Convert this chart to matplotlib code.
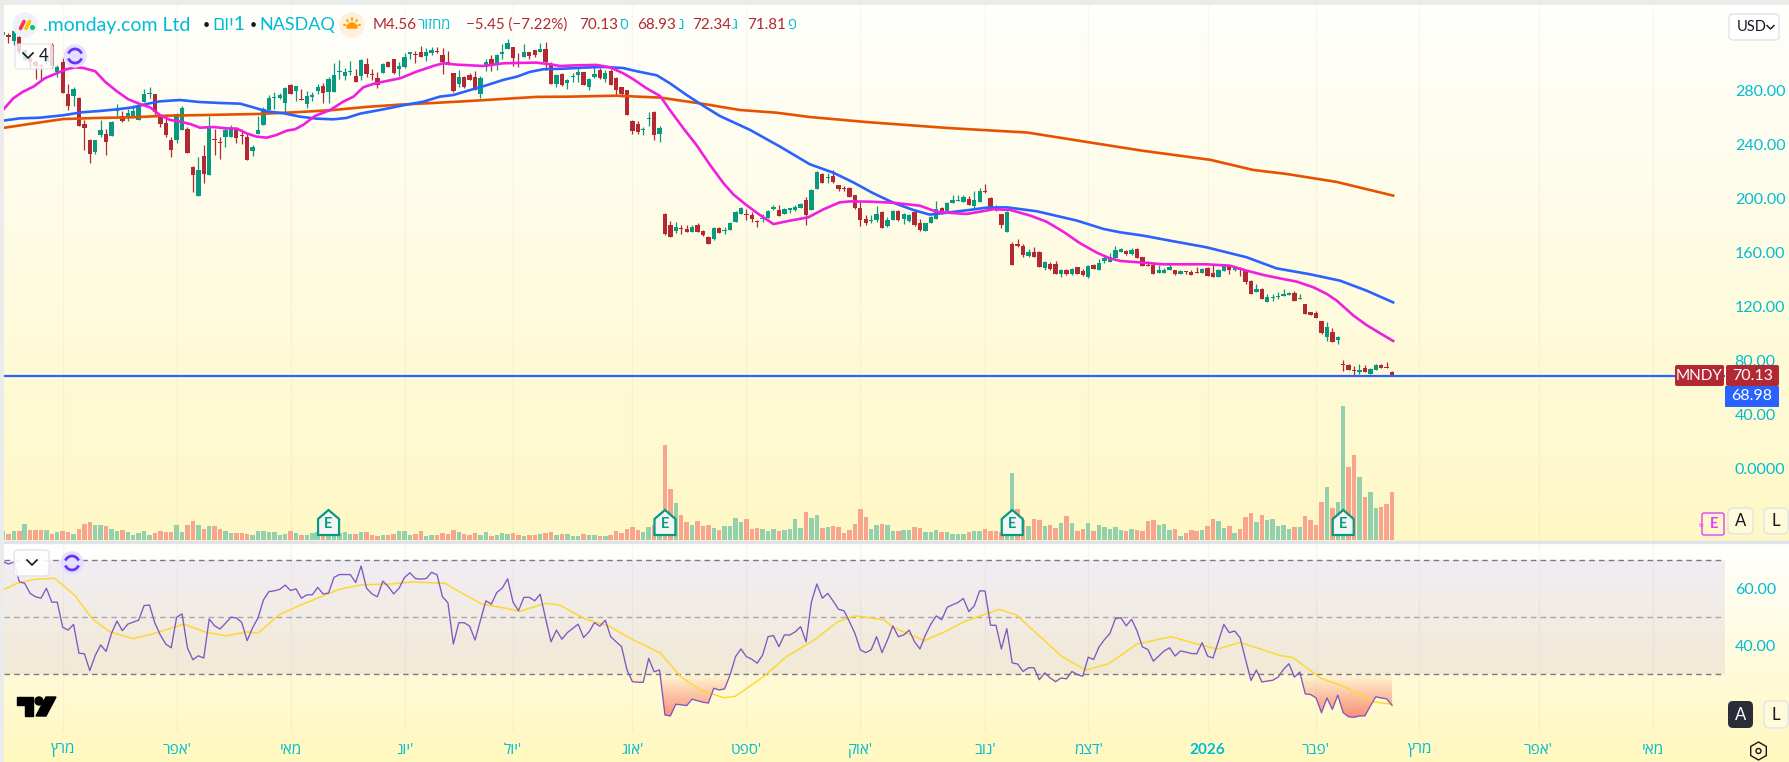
#!/usr/bin/env python3
import numpy as np
import matplotlib
matplotlib.use("Agg")
import matplotlib.pyplot as plt
from matplotlib.patches import Arc, Circle, FancyBboxPatch, Polygon, Rectangle, RegularPolygon, Wedge
from matplotlib.path import Path

W, H = 1790, 762
plt.rcParams["font.family"] = ["Lato", "Open Sans", "Liberation Sans", "DejaVu Sans"]

# daily candles, Feb 2025 - Feb 2026
OPEN = [
    321.3, 321.3, 317, 319.5, 303, 304, 301.5, 299, 301.5, 314,
    294.1, 301.3, 277.6, 276, 274.6, 255.3, 243.5, 234.6, 247.2, 248,
    246.5, 264.7, 261.3, 260.3, 260.3, 258.3, 271.6, 277.6, 277.6, 261.3,
    255.8, 243.5, 243.5, 250.9, 251.4, 223.7, 202.2, 231.6, 217.6, 244,
    242, 245.5, 245.5, 250.9, 247.4, 245.7, 235.3, 247.7, 254.6, 265.7,
    274.6, 274.6, 271.2, 284, 279.6, 273.9, 270.2, 275.6, 279.6, 283.5,
    279, 279, 293.9, 290.9, 293.9, 290.9, 290.9, 299.8, 292.4, 289.2,
    292.9, 301, 303.5, 296.3, 297.8, 307.2, 307.2, 308.7, 305.7, 308.2,
    309.7, 306.5, 301.3, 292.9, 285, 289.9, 291.7, 290.4, 277.6, 297.3,
    303.5, 300.8, 307.2, 310.9, 312.2, 301, 305.2, 308.7, 310.2, 308.7,
    310.9, 299.8, 285.2, 292.4, 286, 289.9, 291.9, 293.9, 283, 290.4,
    295.4, 288.7, 294.6, 289.4, 282.5, 280.3, 257.6, 255.3, 250.9, 258.8,
    264.2, 248.2, 188.7, 180.5, 175.8, 178.3, 177.5, 175.3, 180.5, 176,
    171.6, 170.1, 178.3, 175.8, 176.8, 182.7, 188.7, 188.4, 187.9, 183,
    185, 185.7, 192.6, 191.6, 188.9, 191.9, 191.6, 193.1, 199, 191.6,
    207.4, 218.3, 215.3, 216.8, 210.1, 208.2, 207.7, 202.7, 193.1, 185,
    183.5, 184.2, 190.1, 179.8, 184.2, 190.9, 185, 183.5, 190.1, 182,
    176.1, 182.3, 185.2, 193.4, 190.9, 196.8, 198.3, 197.6, 199.8, 194.6,
    197.6, 205.5, 200.6, 193.6, 188.7, 175.4, 166.5, 166.5, 165, 157.6,
    160.5, 160.5, 148.7, 151.6, 151.6, 144.2, 147.2, 144.2, 149.4, 146.5,
    142, 150.9, 147.2, 153.9, 153.1, 156.1, 160.8, 161.3, 159, 162.8,
    156.8, 151.2, 150.9, 145, 145, 147.2, 147.2, 144.2, 146.2, 145.5,
    145.7, 145, 148.7, 145, 142, 146.5, 150.2, 147.5, 148.2, 147,
    139, 130.9, 133.1, 123.5, 126.4, 127.2, 127.9, 128.7, 130.2, 126,
    122, 116.1, 115.3, 109.4, 97.6, 101.3, 95.3, 77.5, 76.8, 72.9,
    71.6, 74.6, 70.1, 73.1, 76.8, 75.3, 71.81,
]
CLOSE = [
    323.3, 320, 324.5, 309, 310, 301.5, 298.5, 298.5, 306.5, 298,
    297.8, 278.6, 268.7, 281, 253.9, 252.6, 233, 243.5, 250.9, 242,
    256.8, 266.5, 257.8, 263.3, 265, 267.7, 277.6, 278.3, 264.2, 255.3,
    247.2, 236, 262.8, 267.2, 233.6, 217.6, 221.3, 218.3, 252.6, 243.2,
    241.3, 250.9, 251.4, 245, 246.5, 228.7, 238.6, 250.9, 266.2, 274.6,
    275.4, 276.8, 282, 277.6, 283.5, 273.4, 276, 276.8, 283, 278.3,
    288.4, 291.7, 294.4, 293.9, 294.4, 286.7, 302.8, 292.4, 291.9, 284.5,
    299.8, 297.8, 292.9, 298.3, 304.7, 308.5, 306.5, 305, 308.5, 310.2,
    309, 301.5, 299, 280, 289.9, 283, 288, 280.5, 289.2, 301.5,
    298.3, 306.5, 308.7, 315.1, 304.5, 300.3, 308.7, 305.7, 306.7, 310.7,
    301.5, 285.2, 291.7, 284.2, 288, 290.4, 293.9, 284.2, 288.4, 292.4,
    289.4, 293.4, 284.5, 280.8, 277.8, 262.3, 250.2, 249.7, 251.4, 259.5,
    247.2, 252.4, 173.8, 171.6, 179, 177.3, 175.3, 179, 175.3, 173.1,
    166.4, 178.3, 174.6, 176.3, 182, 190.1, 193.1, 187.7, 184.7, 182.5,
    185.7, 190.9, 193.6, 187.2, 192.1, 192.9, 193.6, 196.1, 187.9, 206.4,
    219.8, 211.6, 216.1, 212.4, 207.4, 207.4, 201.5, 193.1, 184.2, 182,
    184.2, 188.7, 178.3, 184.2, 190.9, 184.2, 188.7, 187.9, 180.5, 176.8,
    182, 186.7, 192.2, 189.7, 197.1, 198.8, 198.8, 201.3, 195.4, 199.1,
    205.5, 205, 192.6, 192.6, 180.5, 190.2, 150.9, 165, 158.3, 160.5,
    156.8, 149.4, 153.1, 147.9, 144.2, 147.2, 144.2, 147.9, 144.2, 143.5,
    150.2, 147.9, 152.4, 156.1, 156.8, 162, 162.8, 159, 162, 156.1,
    150.2, 150.4, 144.2, 147.2, 147.2, 149.4, 144.2, 146.5, 145.5, 143.5,
    145.2, 147.9, 142.8, 142, 147.2, 150.2, 147.2, 148.7, 147.2, 138.3,
    129.4, 133.1, 125.7, 127.2, 127.2, 127.9, 129.4, 130.2, 124.2, 126.4,
    114.6, 113.9, 111.6, 100.5, 105, 93.9, 97.6, 76.8, 73.1, 72.1,
    73.1, 71.6, 73.9, 76.8, 74.6, 74.8, 69.0,
]
HIGH = [
    324, 322.5, 326, 321, 311, 306.5, 302.7, 300, 307, 315,
    299, 304, 285, 282.5, 275, 258, 244, 243.5, 258, 251.4,
    257.8, 270.2, 265, 266.2, 269.2, 268.7, 281, 282.5, 277.6, 262,
    263, 245.5, 263.3, 268.7, 253.4, 224.2, 231, 239.8, 261.3, 251.4,
    245.5, 252.1, 254.6, 252.9, 251.9, 248, 239.8, 261.3, 267.7, 276.8,
    279, 278.6, 282.5, 285, 283.5, 281, 279.6, 279.3, 285, 285.5,
    290.4, 300.3, 302.8, 296.6, 301.8, 295.9, 303.5, 304, 295.9, 294,
    300.8, 301.8, 303.5, 301.5, 308.2, 309, 309.7, 313.1, 311.4, 312.6,
    312.6, 311.4, 309.7, 292.9, 295.4, 291, 293.4, 294.9, 290.9, 303.3,
    306.5, 307.2, 314.6, 318, 312.2, 308.2, 314.6, 308.7, 310.2, 315.1,
    316.1, 301.5, 292.4, 292.9, 288.4, 293.4, 297.8, 293.9, 289.2, 297.3,
    296.6, 295.4, 295.9, 290.4, 282.5, 280.3, 258.3, 257.6, 253.4, 264.5,
    265, 253.9, 189.1, 183.7, 182.7, 180.3, 180.3, 180.3, 182.2, 176.8,
    172.4, 179.3, 179.3, 178.8, 182.7, 190.6, 193.6, 192.1, 190.1, 184.2,
    188.7, 191.6, 195.1, 195.1, 192.9, 193, 195.1, 196.6, 201.5, 206.9,
    220.3, 218.8, 219.3, 221.3, 210.1, 209.7, 208.4, 202.7, 197.3, 187.9,
    187.9, 194.6, 190.6, 186.2, 191.6, 191.6, 189.7, 188.9, 190.1, 184.7,
    182.3, 187.4, 198.3, 194.1, 197.6, 202.8, 202.8, 202.8, 202, 205.5,
    207.7, 210.9, 201.5, 195.4, 188.7, 191.2, 167.7, 170.2, 166.5, 163,
    164, 161.3, 153.9, 153.1, 153.9, 147.7, 147.7, 148.4, 149.4, 147.9,
    150.9, 151.6, 155.3, 158.3, 159.5, 165, 163.8, 162, 163.3, 163.5,
    156.8, 153.9, 152.1, 150.9, 148.9, 151.6, 147.2, 147.2, 146.5, 147.2,
    149.4, 148.7, 149.4, 150.9, 147.9, 150.9, 150.9, 149.4, 149.2, 147,
    139.8, 136.8, 133.9, 129.4, 129.4, 130.9, 133.1, 130.9, 131.6, 129.4,
    122, 116.1, 116.8, 109.4, 108.7, 104.2, 98.3, 80.5, 77.5, 76.1,
    77.5, 76.8, 74.3, 77.5, 77.5, 79, 72.34,
]
LOW = [
    321, 315, 314, 307.5, 302, 296.5, 289, 288, 300, 297,
    290.4, 278.6, 265.7, 268.7, 253.9, 236, 226.7, 233, 245.5, 232.4,
    246.5, 260.3, 256.8, 257.8, 260.3, 258.3, 271.6, 274.4, 262, 253.4,
    245.5, 231, 241.5, 250.9, 233.6, 205.2, 202.2, 211.4, 217.6, 232.4,
    229.7, 238, 245.5, 241.5, 240.5, 228.7, 231.6, 247.7, 254.6, 265.7,
    266.5, 273.6, 262.8, 277.6, 272, 273.4, 267.2, 272.4, 277.6, 270.7,
    271.2, 279, 289, 288, 291.7, 286.7, 288, 290, 288, 282.3,
    292.9, 297.8, 292.4, 291, 296.6, 303.3, 300.8, 304.7, 302.3, 306.5,
    307.7, 292.4, 299, 279, 283, 282, 288, 280.5, 274.4, 294.9,
    294.9, 295.4, 303.3, 310.9, 298.3, 297.3, 305.2, 303.8, 304.7, 308.7,
    295.4, 285.2, 283, 283.5, 281.5, 286.7, 286.7, 284.2, 280.5, 289.2,
    288.4, 286.7, 284.5, 276.8, 275.6, 262.3, 247.9, 247.9, 247.2, 253.9,
    243.5, 242.3, 173, 171.6, 174.8, 173.8, 175.3, 175.3, 175.3, 172.6,
    166.4, 169.4, 174.6, 173.8, 176.8, 182.7, 188.7, 184.2, 183, 179.3,
    183, 185.7, 191.4, 187.2, 188.9, 189.6, 191.1, 192.9, 180.5, 191.6,
    207.4, 211.6, 211.9, 211.9, 206, 205.5, 201.5, 192.6, 179.8, 180.8,
    181.7, 183, 178.3, 178.8, 184.2, 183.2, 181.2, 182.8, 179.8, 176.3,
    176.1, 182, 185, 188.7, 190.9, 196.8, 198, 197.6, 195.4, 192.9,
    197.6, 204, 192.6, 191.2, 178.6, 175.4, 150.9, 164, 156.8, 157,
    156.8, 149.4, 147.2, 147.2, 144.2, 142, 143.5, 143.5, 144.2, 142.8,
    141.5, 147.9, 147.2, 152.4, 153.1, 156.1, 160.8, 158, 158.3, 156.1,
    150.2, 150.2, 144.2, 145, 145, 147.2, 143.3, 144.2, 144.2, 143.5,
    145.2, 145, 142.8, 142, 142, 146.5, 144.2, 146.5, 142.8, 136.8,
    129.4, 130.9, 125.7, 123.5, 124.2, 125.7, 127.9, 128.7, 124.2, 125.5,
    114.6, 113.9, 111.6, 99.8, 94.6, 93.9, 92.4, 72.4, 73.1, 68.6,
    70.1, 71.6, 70.1, 72.9, 74.6, 74.8, 68.93,
]

# relative volume, only the bar heights can be read (no scale on the chart)
VOLUME = [
    27, 18, 27, 27, 48, 30, 30, 30, 30, 18, 24, 27, 24, 18, 33, 48, 54, 45, 45, 42,
    33, 27, 30, 24, 15, 21, 27, 15, 21, 27, 24, 24, 45, 24, 45, 57, 45, 33, 42, 42,
    33, 27, 21, 21, 21, 18, 15, 27, 27, 24, 24, 15, 18, 27, 21, 15, 15, 21, 24, 20,
    20, 20, 20, 24, 18, 18, 24, 24, 15, 12, 15, 15, 18, 27, 27, 15, 18, 27, 12, 15,
    15, 21, 18, 30, 24, 18, 15, 21, 15, 24, 12, 15, 21, 18, 21, 15, 12, 15, 15, 18,
    21, 24, 15, 18, 18, 12, 12, 18, 15, 15, 12, 12, 15, 27, 21, 33, 39, 30, 24, 39,
    45, 30, 285, 153, 111, 75, 54, 45, 57, 42, 45, 36, 30, 42, 42, 66, 54, 63, 33, 36,
    33, 27, 33, 27, 30, 33, 63, 36, 84, 66, 75, 36, 39, 42, 39, 21, 30, 48, 93, 69,
    33, 45, 48, 45, 27, 27, 30, 30, 39, 36, 24, 24, 30, 24, 24, 18, 18, 18, 24, 27,
    27, 33, 27, 27, 24, 24, 201, 93, 60, 42, 63, 60, 42, 45, 36, 51, 72, 51, 27, 33,
    51, 27, 45, 39, 33, 39, 30, 27, 33, 30, 27, 57, 60, 45, 48, 30, 33, 12, 21, 30,
    27, 30, 42, 63, 57, 36, 42, 21, 33, 69, 81, 54, 75, 60, 63, 42, 45, 33, 39, 39,
    72, 60, 45, 114, 159, 96, 114, 402, 219, 255, 189, 129, 144, 96, 99, 108, 145,
]
VOLUME_UP_ANYWAY = [186, 247]  # green volume bars on red candles

MA_FAST_BARS = [
    0, 1.9, 3.7, 5.6, 7.7, 9.6, 11.7, 13.3, 14.8, 17, 18.8, 20.9, 23.1, 25.2, 27.1, 28.9,
    30.8, 32.6, 34.5, 36.3, 38.8, 41.2, 43.1, 44.9, 46.7, 48.6, 50.4, 52.3, 53.8, 55.3,
    57.5, 60.3, 62.7, 64.6, 66.4, 68.2, 70.1, 73.2, 76.2, 79.3, 81.1, 83.6, 86.1, 88.5,
    92.2, 94, 98.3, 100.8, 102.7, 105.7, 109.4, 111.9, 114.3, 116.2, 118.6, 121.1, 122.9,
    125.4, 127.8, 130.3, 132.8, 134.6, 137, 139.5, 142, 145, 148.4, 151.2, 154.2, 156.1,
    159.8, 164.1, 169, 172, 173.9, 177.6, 180.1, 182.5, 185.6, 189.3, 192.3, 195.4, 198.5,
    201.6, 204, 205.9, 210.2, 213.8, 221.8, 226.1, 229.2, 232.3, 235.3, 238.4, 241.5, 244,
    245.8, 248.9, 251.3, 253.8, 256.2,
]
MA_FAST = [
    265.7, 274.4, 279.3, 283, 289.2, 292.4, 295.9, 297.3, 296.8, 294.4, 286.7, 279.8, 273.6, 270.2, 267.7, 262,
    258.3, 257.1, 255.3, 252.6, 253.1, 252.1, 251.9, 248.4, 246, 245.2, 247.2, 250.4, 251.4, 254.6,
    261.3, 265.7, 271.9, 275.6, 282.5, 285, 286.7, 289.2, 294.1, 298.3, 300.3, 299.3, 298.8, 298.3,
    300.3, 300.5, 300.8, 299.6, 298.3, 298.8, 299.1, 297.3, 292.9, 288.4, 281.8, 276.1, 265.7,
    252.1, 239.8, 225, 211.4, 203.2, 195.3, 187.9, 181.2, 183.7, 186.2, 192.1, 197.3, 198,
    197.8, 197, 194.8, 190.4, 189.7, 188.7, 190.4, 192.2, 191.7, 187.5, 183, 175.6, 167,
    160, 155.8, 153.9, 152.6, 151.4, 151.4, 150.4, 146.7, 143.5, 141, 138.6, 134.4, 129.4,
    124.5, 113.4, 106.4, 100.3, 94.6,
]
MA_MID_BARS = [
    0, 3.1, 6.8, 11.1, 14.5, 17.9, 21, 24, 26.5, 28.9, 32.6, 36.3, 40, 43.7, 46.1, 48.6,
    51.7, 54.7, 57.8, 60.9, 63.3, 65.8, 70.1, 73.8, 77.5, 80.5, 83, 86.1, 89.1, 92.2, 94.7,
    97.1, 99.6, 103.3, 107, 110.6, 114.3, 116.8, 120.5, 122.9, 126, 129.1, 132.1, 137.7,
    143.2, 148.7, 153, 156.7, 160.4, 164.1, 167.8, 170.8, 174.5, 178.2, 181.3, 185, 190.5,
    197.9, 202.8, 205.9, 210.2, 215.1, 221.8, 229.2, 234.7, 240.9, 246.4, 251.3, 256.2,
]
MA_MID = [
    257.8, 259.5, 260, 261.8, 264, 265, 266.2, 267.7, 270.2, 272.1, 273.1, 271.6, 270.9, 270.4, 267.7, 264.7,
    263.3, 260.8, 259.3, 258.8, 259.8, 263, 266.2, 269.2, 271.9, 275.6, 276.8, 280.5, 284, 288, 290.4,
    293.9, 295.9, 296.3, 297.1, 297.6, 296.8, 294.4, 291.4, 285.5, 276.8, 268.7, 261.3, 250.9,
    238.6, 225.5, 219.3, 212.1, 204, 197, 191.6, 188.2, 189.9, 191.7, 193.4, 193.6, 190.7,
    183.8, 177.6, 175.1, 172.6, 168.9, 164, 156.6, 148.4, 144, 139.3, 131.9, 123.2,
]
MA_SLOW_BARS = [
    0, 5.6, 11.1, 17.3, 24, 30.2, 37.5, 47.4, 54.7, 60.9, 67, 73.2, 79.3, 86.1, 92.2, 98.3,
    104.5, 113, 121.1, 129.1, 135.8, 142.6, 148.7, 159.4, 174, 188.8, 199.3, 209.9, 222.5,
    230.4, 236.6, 245.8, 256.2,
]
MA_SLOW = [
    252.4, 255.8, 259, 259.8, 260.3, 261.5, 262, 262.8, 264.2, 265.7, 268, 269.7, 270.9, 272.4, 273.9, 275.4,
    275.6, 276.3, 274.9, 270.2, 265.7, 263.7, 260.5, 256.7, 252.4, 249, 242.3, 235.6, 228.8,
    221.3, 218.3, 212.4, 202.3,
]

RSI = [
    69.5, 68.7, 69.4, 62.5, 61.9, 58.4, 57.2, 56.7, 60.2, 55.3,
    55.3, 46.5, 45.5, 47.5, 37.4, 37.2, 31.3, 36.6, 40.3, 38,
    44.4, 48.7, 45.3, 47.6, 48.3, 49, 54.1, 54.3, 47.9, 43.8,
    40.6, 39.3, 50, 51.2, 39.2, 35.1, 36.5, 35.7, 49.4, 47,
    45.9, 47.9, 50, 49.8, 48.2, 41.8, 46.3, 49.8, 56.1, 59,
    59.3, 59.8, 61.3, 59.4, 60, 56.7, 57.9, 57.9, 60.5, 58.2,
    58.5, 64, 65, 65, 65, 62.2, 68, 60.2, 58.2, 57.2,
    62.7, 60.8, 58.2, 60.2, 64, 65.6, 63.6, 63.4, 63.6, 65.8,
    64.9, 57.2, 55.1, 40.6, 48.1, 48.1, 46.9, 42, 49, 55.8,
    54.6, 58.7, 60.2, 63.5, 55.3, 52.3, 57, 57, 55.8, 58.1,
    49.6, 41.4, 45.5, 42.3, 44.6, 46.1, 47.6, 42.9, 44.9, 48.1,
    46.9, 49, 43.2, 41.4, 39.7, 31.5, 27.4, 27.2, 27.2, 35.6,
    30.9, 31.5, 15.7, 15.4, 19.5, 19.3, 19, 21.3, 20.7, 20.2,
    19.9, 25.1, 24.5, 24.9, 29.8, 36.2, 38.9, 36.2, 35.3, 33.9,
    36.8, 43.2, 43.6, 39.7, 43.8, 43.8, 44.9, 46.7, 41.4, 55.5,
    61.7, 56.7, 58.4, 55.7, 52.8, 52.3, 48.5, 44.4, 38.6, 37.6,
    38.6, 43.2, 37.6, 42, 47, 43.2, 43.8, 45.5, 41.4, 38.9,
    43.8, 47.6, 50.5, 49.1, 53.5, 54.4, 55.2, 56.6, 52, 54,
    59.3, 59.2, 47.2, 47.2, 38.9, 46, 34, 33.6, 31, 32.3,
    32.3, 28.1, 30.5, 28.7, 27.4, 28.7, 28.4, 31, 29.9, 29.3,
    36, 35.2, 39.6, 42.2, 44.3, 49.5, 49.9, 47, 49.3, 45.2,
    39.6, 38.7, 34.6, 36.4, 38.2, 39.3, 36.4, 38.2, 37.8, 37.3,
    37.2, 41.1, 36.4, 35.7, 41.6, 47.5, 44.6, 45.2, 42.8, 35.2,
    27.8, 31.5, 27.3, 27.6, 27.9, 29, 31.7, 33.7, 29, 30.8,
    23.1, 22.9, 21.7, 16.5, 21.7, 17.7, 22.7, 16.5, 15.1, 14.9,
    15.4, 15.4, 18.9, 22.1, 21.7, 21.4, 19.1,
]
RSI_MA_BARS = [
    0, 2.6, 5.8, 9.5, 13.2, 16.4, 19.6, 24, 28, 33.3, 37.5, 41.2, 45, 47, 50.8, 54.5,
    58.7, 61.9, 66.1, 71.4, 75.6, 81.5, 84.1, 88.3, 92.6, 95.2, 100, 102.6, 107.3, 111.6,
    115.6, 121.2, 124.9, 128.5, 132.8, 134.9, 140.2, 144.4, 149.7, 153.9, 157.1, 162.4,
    164, 169.8, 174, 177.2, 183.6, 186.8, 191.5, 195.2, 199.5, 203.7, 209, 215.3, 219.6,
    223.8, 228, 235.5, 237.6, 242.9, 247.1, 252.4, 256,
]
RSI_MA = [
    59.6, 61.9, 63.3, 63.7, 57.8, 49.6, 45, 42.5, 44.4, 47.6, 44.7, 43.5, 44.9, 44.4, 50.8, 54,
    57.3, 59.8, 61.4, 61.7, 62.4, 61.9, 59, 54.6, 53.2, 52.1, 54.9, 54.3, 49.4, 47,
    42.6, 37.4, 29.2, 24.5, 21.8, 22.2, 29.2, 36.2, 42.3, 48.5, 50.5, 49.1,
    46.5, 41.8, 45.3, 48.5, 52.8, 50.8, 42.6, 36.2, 31.5, 33.6, 40.6, 43.2, 40.9,
    38.8, 41.2, 36.5, 36, 28.6, 25.7, 20.4, 19.5,
]

PRICE_TICKS = [0, 40, 80, 120, 160, 200, 240, 280]
RSI_TICKS = [40, 60]
EARNINGS_BARS = [60, 122, 186, 247]
LAST_PRICE = 70.13
BID_PRICE = 68.98

MONTH_BARS = [11, 32, 53, 74, 94, 116, 137, 158, 181, 200, 222, 242, 261, 283, 304]
MONTH_NAMES = ["מרץ", "אפר'", "מאי", "יונ'", "יול'", "אוג'", "ספט'", "אוק'",
               "נוב'", "דצמ'", "2026", "פבר'", "מרץ", "אפר'", "מאי"]

RED = "#b22833"
GREEN = "#089981"
VOL_RED = "#f7a58e"
VOL_GREEN = "#92d0ae"
CYAN = "#00bcd4"
BLUE = "#2962ff"
MAGENTA = "#f01fe0"
ORANGE = "#e65100"
BORDER = "#e0e3eb"


def visual(label):
    # matplotlib lays text out left to right, so hebrew goes in reversed
    if label.isdigit():
        return label
    if label.endswith("'"):
        return label[:-1][::-1] + "'"
    return label[::-1]


def pane(left, top, right, bottom):
    ax = fig.add_axes([left / W, 1 - bottom / H, (right - left) / W, (bottom - top) / H])
    ax.patch.set_visible(False)
    for spine in ax.spines.values():
        spine.set_visible(False)
    return ax


def bar_px(i):
    return 3 + 5.426 * i


fig = plt.figure(figsize=(W / 100, H / 100), dpi=100)
fig.patch.set_facecolor("#ebebeb")

# page background, each pane fades from white to pale yellow
bg = pane(0, 0, W, H)
bg.set_xlim(0, W)
bg.set_ylim(H, 0)
bg.axis("off")
for top, bottom, c_top, c_bottom in [(5, 541, (255, 255, 252), (254, 248, 198)),
                                     (543, 762, (255, 255, 254), (255, 248, 190))]:
    shade = np.linspace(0, 1, 64)[:, None, None]
    grad = (np.array(c_top) * (1 - shade) + np.array(c_bottom) * shade) / 255
    bg.imshow(grad, extent=(4, W, bottom, top), aspect="auto", zorder=0)
bg.set_xlim(0, W)
bg.set_ylim(H, 0)
bg.add_patch(Rectangle((4, 541), W, 2, color=BORDER, zorder=1))

x_lim = ((4 - 3) / 5.426, (1725 - 3) / 5.426)
bars = np.arange(len(CLOSE))
opens = np.array(OPEN)
closes = np.array(CLOSE)
up = closes >= opens

# volume sits behind the candles on its own scale
ax_vol = pane(4, 5, 1725, 541)
ax_vol.set_xlim(*x_lim)
ax_vol.set_ylim(-3, 1605)
vol_up = up.copy()
vol_up[VOLUME_UP_ANYWAY] = True
ax_vol.bar(bars, VOLUME, width=0.82, color=[VOL_GREEN if u else VOL_RED for u in vol_up])
ax_vol.set_xticks(MONTH_BARS)
ax_vol.grid(True, axis="x", color="#2a2e39", alpha=0.035, linewidth=1)
ax_vol.set_axisbelow(True)
ax_vol.tick_params(left=False, bottom=False, labelleft=False, labelbottom=False)

ax = pane(4, 5, 1725, 541)
ax.set_xlim(*x_lim)
ax.set_ylim(-53.56, 343.48)
colors = [GREEN if u else RED for u in up]
ax.vlines(bars, LOW, HIGH, colors=colors, linewidth=0.9, zorder=2)
ax.bar(bars, np.maximum(np.abs(closes - opens), 0.7), bottom=np.minimum(opens, closes),
       width=0.8, color=colors, linewidth=0, zorder=3)
ax.plot(MA_SLOW_BARS, MA_SLOW, color=ORANGE, linewidth=1.9, zorder=4)
ax.plot(MA_MID_BARS, MA_MID, color=BLUE, linewidth=1.9, zorder=5)
ax.plot(MA_FAST_BARS, MA_FAST, color=MAGENTA, linewidth=1.9, zorder=6)
ax.axhline(BID_PRICE, color=BLUE, linewidth=1.6, zorder=7)
ax.yaxis.tick_right()
ax.set_yticks(PRICE_TICKS)
ax.set_yticklabels(["0.0000" if t == 0 else f"{t:.2f}" for t in PRICE_TICKS], color=CYAN, fontsize=11.5)
ax.tick_params(axis="y", length=0, pad=7)
ax.tick_params(axis="x", bottom=False, labelbottom=False)

# rsi pane
ax_rsi = pane(4, 544, 1725, 732)
ax_rsi.set_xlim(*x_lim)
ax_rsi.set_ylim(9.75, 75.72)
ax_rsi.axhspan(30, 70, color="#7e57c2", alpha=0.1, linewidth=0)
ax_rsi.axhline(70, color="#787b86", linewidth=1, dashes=(4, 3))
ax_rsi.axhline(30, color="#787b86", linewidth=1, dashes=(4, 3))
ax_rsi.axhline(50, color="#787b86", linewidth=1, dashes=(4, 3), alpha=0.6)

rsi = np.array(RSI)
under = ax_rsi.fill_between(bars, rsi, 30, where=rsi < 30, interpolate=True, color="none", linewidth=0)
fade = np.zeros((64, 1, 4))
fade[:, 0, :3] = np.array([248, 130, 110]) / 255
fade[:, 0, 3] = np.linspace(0.03, 0.95, 64)
glow = ax_rsi.imshow(fade, extent=(0, 257, 14, 30), aspect="auto", zorder=1)
glow.set_clip_path(Path.make_compound_path(*under.get_paths()), transform=ax_rsi.transData)
ax_rsi.set_xlim(*x_lim)
ax_rsi.set_ylim(9.75, 75.72)

ax_rsi.plot(RSI_MA_BARS, RSI_MA, color="#fdd835", linewidth=1.1, zorder=3)
ax_rsi.plot(bars, rsi, color="#7e57c2", linewidth=0.95, zorder=4)
ax_rsi.yaxis.tick_right()
ax_rsi.set_yticks(RSI_TICKS)
ax_rsi.set_yticklabels([f"{t:.2f}" for t in RSI_TICKS], color=CYAN, fontsize=11.5)
ax_rsi.tick_params(axis="y", length=0, pad=7)
ax_rsi.set_xticks(MONTH_BARS)
ax_rsi.set_xticklabels([visual(m) for m in MONTH_NAMES], color=CYAN, fontsize=11)
ax_rsi.tick_params(axis="x", length=0, pad=8)
for tick, name in zip(ax_rsi.get_xticklabels(), MONTH_NAMES):
    if name.isdigit():
        tick.set_fontweight("bold")
ax_rsi.grid(True, axis="x", color="#2a2e39", alpha=0.035, linewidth=1)
ax_rsi.set_axisbelow(True)

# everything below is screen furniture, placed in pixels
ui = pane(0, 0, W, H)
ui.set_xlim(0, W)
ui.set_ylim(H, 0)
ui.axis("off")


def box(x0, y0, x1, y1, face, edge=None, alpha=1.0, radius=4, z=5):
    ui.add_patch(FancyBboxPatch((x0, y0), x1 - x0, y1 - y0, boxstyle=f"round,pad=0,rounding_size={radius}",
                                facecolor=face, edgecolor=edge or "none", linewidth=1, alpha=alpha, zorder=z))


def label(x, y, text, color=CYAN, size=14, ha="left", weight="normal", z=8):
    ui.text(x, y, text, color=color, fontsize=size, ha=ha, va="center", fontweight=weight, zorder=z)


def chevron(x, y):
    ui.plot([x - 5, x, x + 5], [y - 2, y + 3, y - 2], color="#131722", linewidth=1.2, zorder=8)


def reload_icon(x, y):
    ui.add_patch(Circle((x, y), 11, color="#e6e0ff", zorder=6))
    ui.add_patch(Arc((x, y), 14, 14, theta1=200, theta2=340, color="#6a35f5", linewidth=2, zorder=7))
    ui.add_patch(Arc((x, y), 14, 14, theta1=20, theta2=160, color="#6a35f5", linewidth=2, zorder=7))


# header line
ui.add_patch(Circle((25, 25), 12, color="#eef1f8", zorder=6))
ui.plot([20.5, 24], [28.5, 21.5], color="#f0384f", linewidth=2.6, solid_capstyle="round", zorder=7)
ui.plot([26, 29.5], [28.5, 21.5], color="#ffc400", linewidth=2.6, solid_capstyle="round", zorder=7)
ui.add_patch(Circle((32.5, 27.5), 1.8, color="#00c875", zorder=7))
label(43, 25, ".monday.com Ltd")
label(203, 25, "•", color="#131722", size=9)
label(212, 25, visual("יום") + "1")
label(250, 25, "•", color="#131722", size=9)
label(259, 25, "NASDAQ", size=13)
ui.add_patch(Circle((352, 25), 12, color="#fff0dc", zorder=6))
ui.add_patch(Wedge((352, 28), 5, 180, 360, color="#ff9800", zorder=7))
for dx, dy in [(-8, -1), (-5, -6), (0, -8), (5, -6), (8, -1)]:
    ui.plot([352 + dx * 0.8, 352 + dx], [26 + dy * 0.8, 26 + dy], color="#ff9800", linewidth=1.2, zorder=7)
label(373, 25, "M4.56", color=RED, size=10.9)
label(418, 25, visual("מחזור"), size=10.5)
label(466, 25, "−5.45 (−7.22%)", color=RED, size=10.9)
for x, val, x_letter, letter in [(579, "70.13", 619, "ס"), (637, "68.93", 677, "נ"),
                                 (692, "72.34", 732, "ג"), (747, "71.81", 787, "פ")]:
    label(x, 25, val, color=RED, size=10.9)
    label(x_letter, 25, letter, size=10.9)

box(15, 44, 53, 69, "white", BORDER, alpha=0.8)
chevron(28, 55)
label(39, 56, "4", color="#131722", size=12)
reload_icon(75, 56)

box(14, 550, 49, 576, "white", BORDER, alpha=0.9)
chevron(32, 562)
reload_icon(72, 563)

# USD button
box(1729, 14, 1779, 40, "white", BORDER)
label(1737, 27, "USD", color="#131722", size=10.5)
ui.plot([1767, 1770.5, 1774], [25.5, 29, 25.5], color="#131722", linewidth=1, zorder=8)

# price tags
box(1675, 365, 1724, 386, RED, radius=2)
label(1699.5, 375.5, "MNDY", color="white", size=11, ha="center")
box(1726, 365, 1779, 386, RED, radius=2)
label(1752.5, 375.5, f"{LAST_PRICE:.2f}", color="white", size=11.5, ha="center")
box(1725, 386, 1779, 407, BLUE, radius=1)
label(1752, 396.5, f"{BID_PRICE:.2f}", color="white", size=11.5, ha="center")

# earnings flags
for i in EARNINGS_BARS:
    x = bar_px(i)
    ui.add_patch(Polygon([(x - 10.5, 519), (x, 510), (x + 10.5, 519), (x + 10.5, 535), (x - 10.5, 535)],
                         closed=True, facecolor="#f3f7f3", edgecolor=GREEN, linewidth=1.6, zorder=6))
    label(x, 524.5, "E", color=GREEN, size=10.5, ha="center", weight="bold")

box(1702, 513, 1724, 535, "#fff8c8", "#e040fb", radius=2)
label(1714, 524, "E", color="#e040fb", size=10.5, ha="center", weight="bold")
label(1697, 526, "≈", color="#e040fb", size=8)

for y0, y1, active in [(508, 534, False), (701, 728, True)]:
    box(1728, y0, 1753, y1, "#2a2e39" if active else "#fffbd8", None if active else BORDER, radius=5)
    box(1764, y0, 1788, y1, "#fffbd8", BORDER, radius=5)
    label(1740.5, (y0 + y1) / 2, "A", color="white" if active else "#131722", size=12, ha="center")
    label(1776, (y0 + y1) / 2, "L", color="#131722", size=12, ha="center")

# settings hexagon
ui.add_patch(RegularPolygon((1758.5, 751), 6, radius=9, facecolor="none", edgecolor="#131722", linewidth=1, zorder=7))
ui.add_patch(Circle((1758.5, 751), 2.5, facecolor="none", edgecolor="#131722", linewidth=1, zorder=7))

# tradingview mark
ui.add_patch(Polygon([(17, 697), (33, 697), (33, 716), (25, 716), (25, 705), (17, 705)], color="#000000", zorder=7))
ui.add_patch(Circle((39, 701), 4, color="#000000", zorder=7))
ui.add_patch(Polygon([(46, 697), (56, 697), (46, 716), (36, 716)], color="#000000", zorder=7))

fig.savefig("out.png", dpi=100, facecolor=fig.get_facecolor())
